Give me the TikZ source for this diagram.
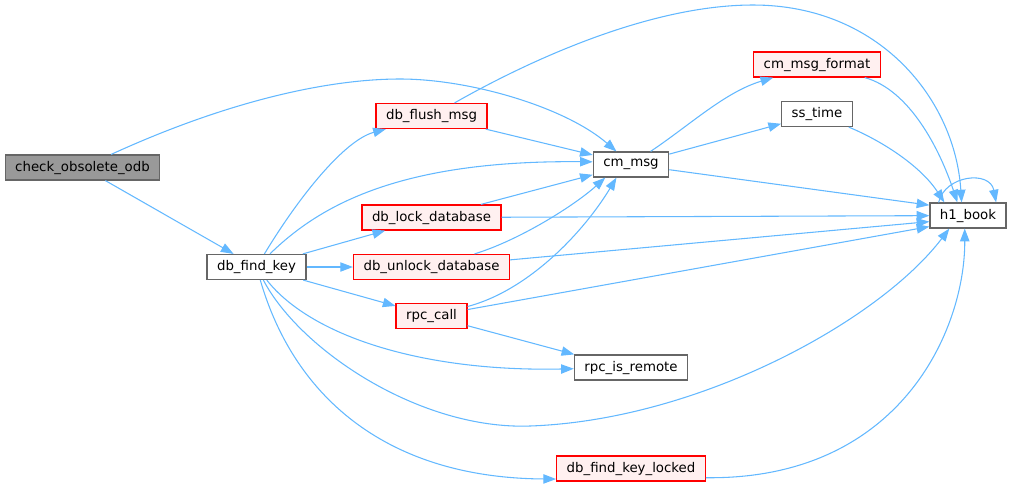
\documentclass[tikz,border=0pt]{standalone}
\usepackage{fontspec}
\setmainfont{DejaVu Sans}
\usepackage{tikz}
\usetikzlibrary{arrows.meta}
\definecolor{edgeblue}{HTML}{63B8FF}
\definecolor{boxgray}{HTML}{666666}
\definecolor{rootfill}{HTML}{999999}
\definecolor{redfill}{HTML}{FFF0F0}

\begin{document}
\begin{tikzpicture}[x=0.75pt, y=-0.75pt,
    fn/.style={draw=boxgray, fill=white, line width=0.9pt, inner xsep=7.5pt,
      inner ysep=0pt, minimum height=18.75pt, font=\fontsize{10}{12}\selectfont},
    fnred/.style={fn, draw=red, fill=redfill},
    fnroot/.style={fn, fill=rootfill},
    call/.style={draw=edgeblue, line width=0.8pt, -{Triangle[length=9.5pt,width=7pt]}}]
  \useasboundingbox (0,0) rectangle (1012,487);

  \node[fnroot] (check)    at (82.5,167.5) {check\_obsolete\_odb};
  \node[fn]     (findkey)  at (256.5,267)  {db\_find\_key};
  \node[fnred]  (flush)    at (431.5,116)  {db\_flush\_msg};
  \node[fnred]  (lock)     at (431.5,217.5) {db\_lock\_database};
  \node[fnred]  (unlock)   at (431.5,267)  {db\_unlock\_database};
  \node[fnred]  (rpccall)  at (431.5,316)  {rpc\_call};
  \node[fn]     (cmmsg)    at (631,164.5)  {cm\_msg};
  \node[fn]     (isremote) at (631,367.5)  {rpc\_is\_remote};
  \node[fnred]  (locked)   at (631,468.5)  {db\_find\_key\_locked};
  \node[fnred]  (cmfmt)    at (817,64.5)   {cm\_msg\_format};
  \node[fn]     (sstime)   at (817,114)    {ss\_time};
  \node[fn]     (hbook)    at (968,215.5)  {h1\_book};

  % calls of check_obsolete_odb
  \draw[call] (check) -- (findkey);
  \draw[call] (check) .. controls (230,100) and (330,79) .. (400,79)
                      .. controls (470,79) and (565,107) .. (cmmsg.138);

  % calls of db_find_key
  \draw[call] (findkey) .. controls (300,195) and (345,140) .. (flush.196);
  \draw[call] (findkey) .. controls (320,205) and (400,160) .. (cmmsg.176);
  \draw[call] (findkey) -- (lock);
  \draw[call] (findkey) -- (unlock);
  \draw[call] (findkey) -- (rpccall);
  \draw[call] (findkey) .. controls (310,335) and (420,372) .. (isremote);
  \draw[call] (findkey) .. controls (300,350) and (420,430) .. (530,426)
                        .. controls (700,420) and (880,320) .. (hbook.215);
  \draw[call] (findkey) .. controls (295,400) and (390,478) .. (locked.188);

  \draw[call] (flush) .. controls (530,60) and (650,5) .. (753,5)
                      .. controls (880,5) and (955,100) .. (hbook.116);
  \draw[call] (flush) -- (cmmsg.166);
  \draw[call] (lock) -- (cmmsg.195);
  \draw[call] (lock) -- (hbook);
  \draw[call] (unlock) .. controls (520,240) and (575,205) .. (cmmsg.207);
  \draw[call] (unlock) -- (hbook.189);
  \draw[call] (rpccall) .. controls (530,290) and (585,230) .. (cmmsg.222);
  \draw[call] (rpccall) -- (hbook.196);
  \draw[call] (rpccall) -- (isremote.167);

  % calls of cm_msg
  \draw[call] (cmmsg) .. controls (690,125) and (725,92) .. (cmfmt);
  \draw[call] (cmmsg) -- (sstime);
  \draw[call] (cmmsg) -- (hbook.165);
  \draw[call] (cmfmt) .. controls (910,90) and (940,150) .. (hbook.129);
  \draw[call] (sstime) .. controls (880,140) and (920,165) .. (hbook.151);
  \draw[call] (hbook.156) .. controls (945,175) and (990,170) .. (hbook.25);
  \draw[call] (locked.353) .. controls (900,480) and (965,330) .. (hbook.256);
\end{tikzpicture}
\end{document}
